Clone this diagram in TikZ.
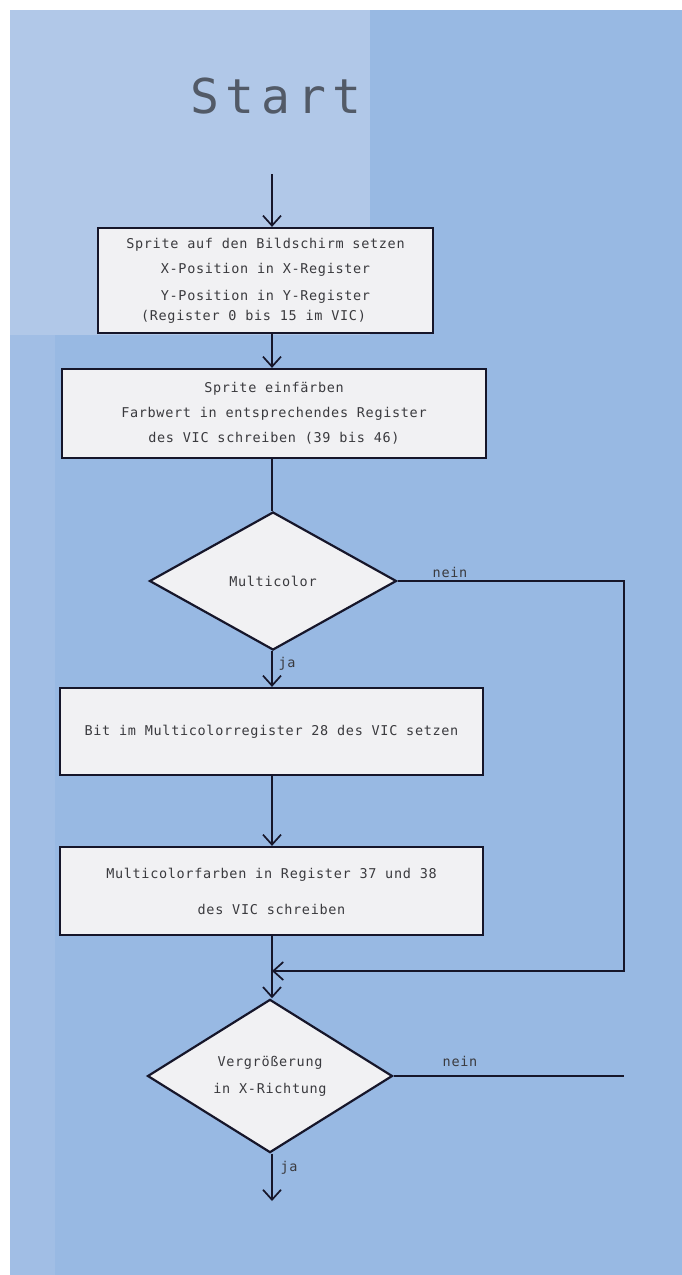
\documentclass[tikz,border=0pt]{standalone}
\usepackage{fontspec}
\usetikzlibrary{shapes.geometric,arrows.meta}
\newfontfamily\plotfont[LetterSpace=5]{DejaVu Sans Mono}
\newfontfamily\startfont[LetterSpace=14]{DejaVu Sans Mono}
\definecolor{bgblue}{HTML}{98B9E3}
\definecolor{bglight}{HTML}{B1C8E8}
\definecolor{boxfill}{HTML}{F1F1F3}
\definecolor{inkline}{HTML}{16162A}
\definecolor{inktext}{HTML}{3A3A3E}
\tikzset{
  procbox/.style={draw=inkline, line width=2.2pt, fill=boxfill, rectangle, inner sep=0pt,
    align=center, text=inktext, font=\plotfont\fontsize{13.5}{25}\selectfont},
  decbox/.style={draw=inkline, line width=2.2pt, fill=boxfill, diamond, inner sep=0pt,
    align=center, text=inktext, font=\plotfont\fontsize{13.5}{27}\selectfont},
  conn/.style={draw=inkline, line width=1.7pt},
  arr/.style={conn, -{Straight Barb[length=10pt,width=18pt,line width=1.7pt]}},
  lbl/.style={text=inktext, font=\plotfont\fontsize{13.5}{16}\selectfont, inner sep=0pt}
}
\begin{document}
\begin{tikzpicture}[x=1pt,y=-1pt]
  % background
  \fill[white] (0,0) rectangle (682,1275);
  \useasboundingbox (0,0) rectangle (682,1275);
  \fill[bgblue] (10,10) rectangle (682,1275);
  \fill[bglight] (10,10) rectangle (370,335);
  \fill[bglight!35!bgblue] (10,335) rectangle (55,1275);

  \coordinate (mx) at (272,0);

  % Start
  \node[text=inktext!75!bgblue, font=\startfont\fontsize{48}{50}\selectfont, inner sep=0pt,
        text height=35pt, text depth=0pt, anchor=base] (start) at (276,113) {Start};

  % boxes
  \node[procbox, minimum width=335pt, minimum height=105pt] (box1) at (265.5,280.5)
    {Sprite auf den Bildschirm setzen\\[0pt]
     X-Position in X-Register\\[2pt]
     Y-Position in Y-Register\\[-5pt]
     (Register 0 bis 15 im VIC)\hspace*{24pt}};

  \node[procbox, minimum width=424pt, minimum height=89pt] (box2) at (274,413.5)
    {Sprite einf\"arben\\
     Farbwert in entsprechendes Register\\
     des VIC schreiben (39 bis 46)};

  \node[decbox, minimum width=247pt, minimum height=138pt] (d1) at (273,581)
    {Multicolor};

  \node[procbox, minimum width=423pt, minimum height=87pt] (box3) at (271.5,731.5)
    {Bit im Multicolorregister 28 des VIC setzen};

  \node[procbox, minimum width=423pt, minimum height=88pt] (box4) at (271.5,891)
    {Multicolorfarben in Register 37 und 38\\[11pt]
     des VIC schreiben};

  \node[decbox, minimum width=245pt, minimum height=135pt] (d2) at (270,1076)
    {Vergr\"o\ss erung\\[0pt]in X-Richtung};

  % helper coordinates
  \coordinate (join) at (272,971);
  \coordinate (loopc) at (624,971);
  \coordinate (rend) at (624,1076);
  \coordinate (bend) at (272,1201);

  % connectors
  \draw[arr] ([yshift=-61pt]start.base -| mx) -- (box1.north -| mx);
  \draw[arr] (box1.south -| mx) -- (box2.north -| mx);
  \draw[conn] (box2.south -| mx) -- (d1.north -| mx);
  \draw[arr] (d1.south -| mx) -- (box3.north -| mx);
  \draw[arr] (box3.south -| mx) -- (box4.north -| mx);
  \draw[conn] (box4.south -| mx) -- (join);
  \draw[arr] (d1.east) -| (loopc) -- (join);
  \draw[arr] (join) -- (d2.north -| mx);
  \draw[conn] (d2.east) -- (rend);
  \draw[arr] (d2.south -| mx) -- (bend);

  % labels
  \node[lbl] (n1) at (450,572) {nein};
  \node[lbl] (j1) at (287,664) {ja};
  \node[lbl] (n2) at (460,1061) {nein};
  \node[lbl] (j2) at (289,1168) {ja};
\end{tikzpicture}
\end{document}
